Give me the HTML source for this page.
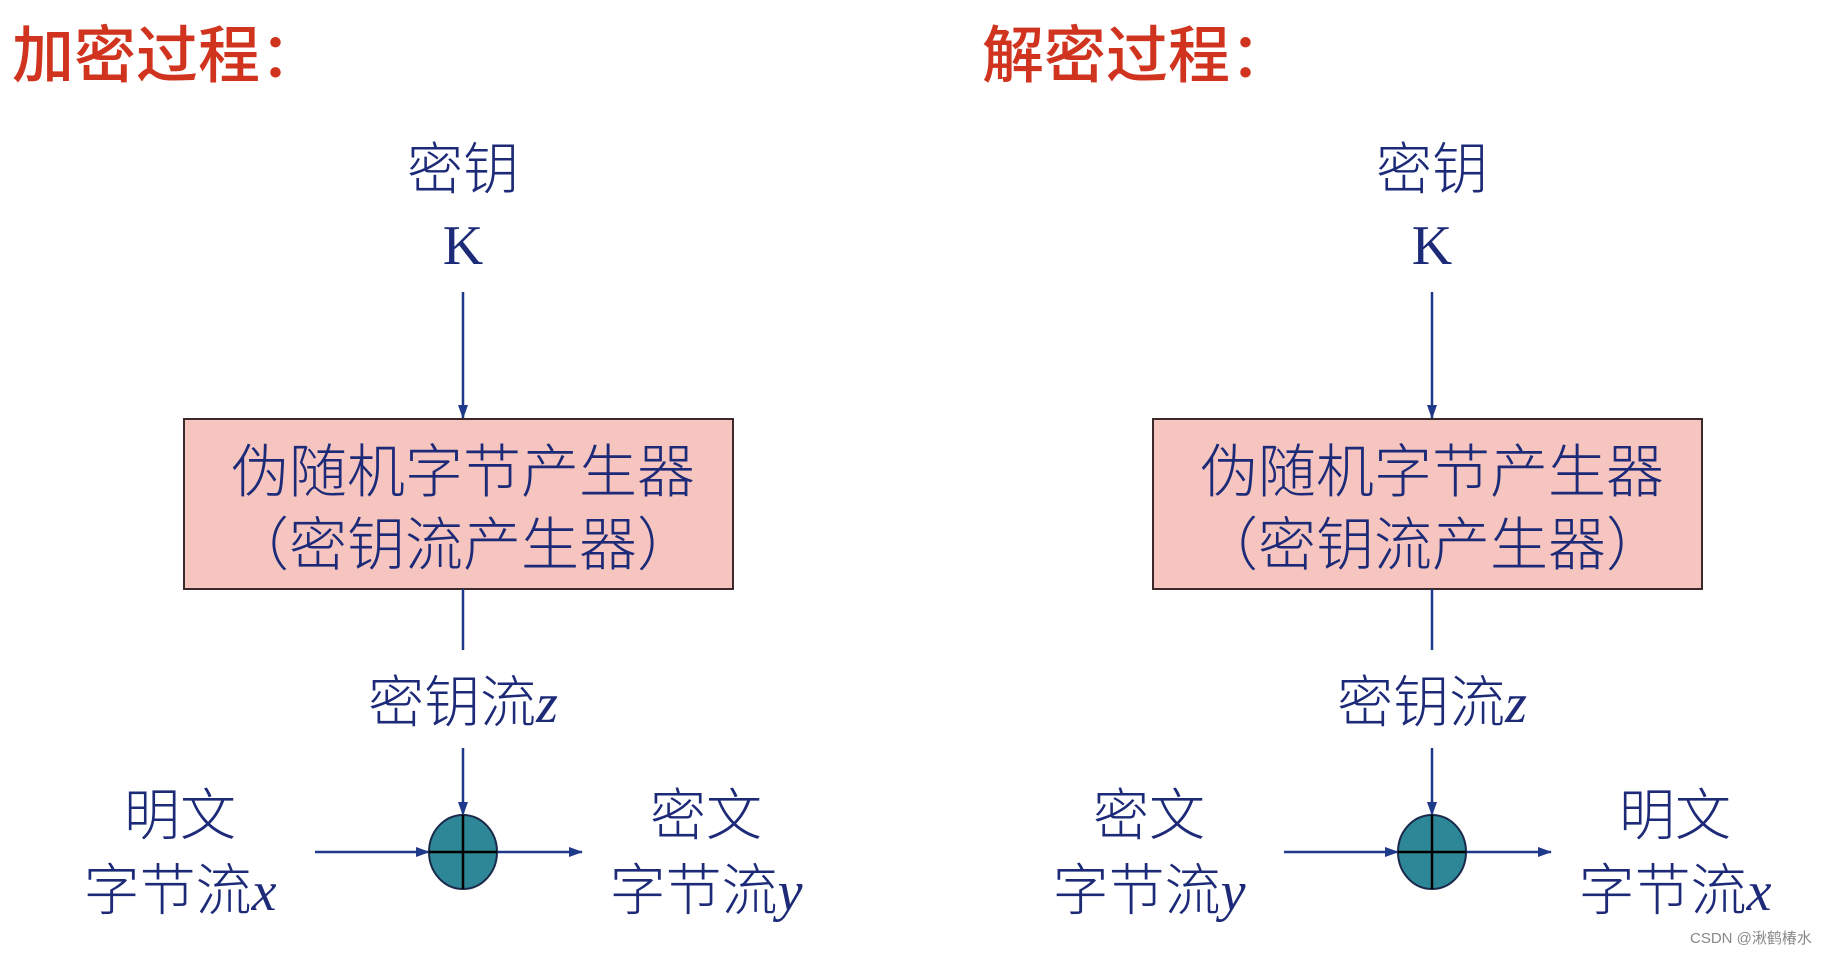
<!DOCTYPE html>
<html><head><meta charset="utf-8"><style>
html,body{margin:0;padding:0;background:#fff;}
</style></head><body>
<svg width="1842" height="954" viewBox="0 0 1842 954" xmlns="http://www.w3.org/2000/svg">
<defs>
<marker id="ah" markerWidth="14" markerHeight="12" refX="13" refY="6" orient="auto" markerUnits="userSpaceOnUse">
<path d="M0,1 L14,6 L0,11 Z" fill="#1f3a8a"/></marker>
</defs>
<rect width="1842" height="954" fill="#fff"/>
<text x="12" y="77" font-size="62" fill="#d0341f" style="font-family:'Noto Sans CJK SC',sans-serif;font-weight:500">加密过程：</text>
<text x="982" y="77" font-size="62" fill="#d0341f" style="font-family:'Noto Sans CJK SC',sans-serif;font-weight:500">解密过程：</text>

<g id="L" style="font-family:'Liberation Serif','Noto Sans CJK SC',serif">
<text x="463" y="189" font-size="56" fill="#1c2a78" text-anchor="middle" style="font-family:'Liberation Serif','Noto Sans CJK SC',sans-serif;font-weight:300">密钥</text>
<text x="463" y="264" font-size="56" fill="#1c2a78" text-anchor="middle">K</text>
<line x1="463" y1="292" x2="463" y2="418" stroke="#1f3a8a" stroke-width="2.5" marker-end="url(#ah)"/>
<rect x="184" y="419" width="549" height="170" fill="#f6c5bf" stroke="#3a2a2a" stroke-width="2"/>
<text x="463" y="492" font-size="58" fill="#1c2a78" text-anchor="middle" style="font-family:'Noto Sans CJK SC',sans-serif;font-weight:300">伪随机字节产生器</text>
<text x="463" y="565" font-size="58" fill="#1c2a78" text-anchor="middle" style="font-family:'Noto Sans CJK SC',sans-serif;font-weight:300">（密钥流产生器）</text>
<line x1="463" y1="589" x2="463" y2="650" stroke="#1f3a8a" stroke-width="2.5"/>
<text x="463" y="722" font-size="56" fill="#1c2a78" text-anchor="middle"><tspan style="font-family:'Noto Sans CJK SC',sans-serif;font-weight:300">密钥流</tspan><tspan font-style="italic">z</tspan></text>
<line x1="463" y1="748" x2="463" y2="815" stroke="#1f3a8a" stroke-width="2.5" marker-end="url(#ah)"/>
<line x1="315" y1="852" x2="429" y2="852" stroke="#1f3a8a" stroke-width="2.5" marker-end="url(#ah)"/>
<line x1="497" y1="852" x2="582" y2="852" stroke="#1f3a8a" stroke-width="2.5" marker-end="url(#ah)"/>
<ellipse cx="463" cy="852" rx="34" ry="37" fill="#2e8796" stroke="#1a2a4a" stroke-width="2"/>
<line x1="429" y1="852" x2="497" y2="852" stroke="#000" stroke-width="2.5"/>
<line x1="463" y1="815" x2="463" y2="889" stroke="#000" stroke-width="2.5"/>
</g>
<g style="font-family:'Liberation Serif','Noto Sans CJK SC',serif" font-size="56" fill="#1c2a78" text-anchor="middle">
<text x="180" y="835"><tspan style="font-family:'Noto Sans CJK SC',sans-serif;font-weight:300">明文</tspan></text>
<text x="180" y="910"><tspan style="font-family:'Noto Sans CJK SC',sans-serif;font-weight:300">字节流</tspan><tspan font-style="italic">x</tspan></text>
<text x="706" y="835"><tspan style="font-family:'Noto Sans CJK SC',sans-serif;font-weight:300">密文</tspan></text>
<text x="706" y="910"><tspan style="font-family:'Noto Sans CJK SC',sans-serif;font-weight:300">字节流</tspan><tspan font-style="italic">y</tspan></text>
</g>

<use href="#L" transform="translate(969,0)"/>
<g style="font-family:'Liberation Serif','Noto Sans CJK SC',serif" font-size="56" fill="#1c2a78" text-anchor="middle">
<text x="1149" y="835"><tspan style="font-family:'Noto Sans CJK SC',sans-serif;font-weight:300">密文</tspan></text>
<text x="1149" y="910"><tspan style="font-family:'Noto Sans CJK SC',sans-serif;font-weight:300">字节流</tspan><tspan font-style="italic">y</tspan></text>
<text x="1675" y="835"><tspan style="font-family:'Noto Sans CJK SC',sans-serif;font-weight:300">明文</tspan></text>
<text x="1675" y="910"><tspan style="font-family:'Noto Sans CJK SC',sans-serif;font-weight:300">字节流</tspan><tspan font-style="italic">x</tspan></text>
</g>

<text x="1690" y="943" font-size="15" fill="#888" style="font-family:'Liberation Sans','Noto Sans CJK SC',sans-serif">CSDN @湫鹤椿水</text>
</svg>
</body></html>
